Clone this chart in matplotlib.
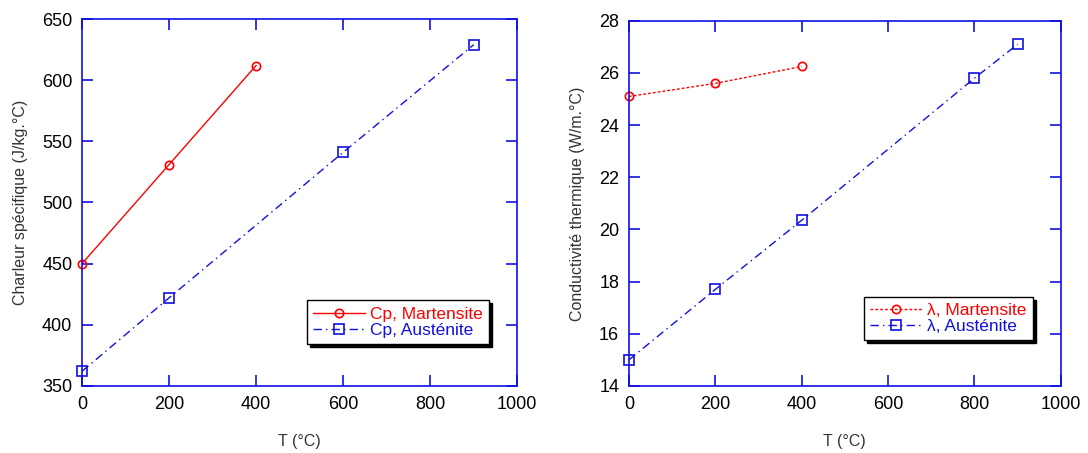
import matplotlib.pyplot as plt

plt.rcParams['font.family'] = ['Liberation Sans', 'DejaVu Sans']

# chaleur specifique
cp_mart_T = [0, 200, 400]
cp_mart = [450, 531, 612]
cp_aus_T = [0, 200, 600, 900]
cp_aus = [362, 422, 541, 629]

# conductivite thermique
lam_mart_T = [0, 200, 400]
lam_mart = [25.1, 25.6, 26.25]
lam_aus_T = [0, 200, 400, 800, 900]
lam_aus = [15.0, 17.7, 20.35, 25.8, 27.1]

blue = '#1010e0'

fig = plt.figure(figsize=(10.88, 4.53), dpi=100)
ax1 = fig.add_axes([0.0754, 0.148, 0.400, 0.810])
ax2 = fig.add_axes([0.578, 0.148, 0.397, 0.806])


def style(ax):
    for s in ax.spines.values():
        s.set_color(blue)
        s.set_linewidth(1.2)
    ax.tick_params(direction='in', length=8, width=1.2, color=blue,
                   top=True, right=True, labelsize=13, labelcolor='black', pad=7)
    ax.set_xlim(0, 1000)
    ax.set_xticks([0, 200, 400, 600, 800, 1000])
    ax.set_xlabel('T (°C)', fontsize=11.5, color='#333333', labelpad=15)


def legend(ax, bbox):
    leg = ax.legend(loc='lower right', bbox_to_anchor=bbox, fontsize=12.5, frameon=True,
                    shadow={'color': 'black', 'alpha': 1}, fancybox=False,
                    handlelength=3.0, handletextpad=0.3, borderpad=0.35, labelspacing=0.05,
                    borderaxespad=0)
    leg.get_frame().set_edgecolor('black')
    leg.get_frame().set_linewidth(1.0)
    for t, c in zip(leg.get_texts(), ['red', blue]):
        t.set_color(c)


ax1.plot(cp_mart_T, cp_mart, color='red', lw=1, marker='o', ms=6, mfc='none',
         mec='red', mew=1.2, label='Cp, Martensite', clip_on=False)
ax1.plot(cp_aus_T, cp_aus, color=blue, lw=1, ls=(0, (6, 3, 1, 3)), marker='s', ms=7,
         mfc='none', mec=blue, mew=1.2, label='Cp, Austénite', clip_on=False)
ax1.set_ylim(350, 650)
ax1.set_yticks(range(350, 651, 50))
ax1.set_ylabel('Charleur spécifique (J/kg.°C)', fontsize=11.5, color='#333333', labelpad=10)
style(ax1)
legend(ax1, (0.935, 0.115))

ax2.plot(lam_mart_T, lam_mart, color='red', lw=1, ls=(0, (2, 1.5)), marker='o', ms=6,
         mfc='none', mec='red', mew=1.2, label='λ, Martensite', clip_on=False)
ax2.plot(lam_aus_T, lam_aus, color=blue, lw=1, ls=(0, (6, 3, 1, 3)), marker='s', ms=7,
         mfc='none', mec=blue, mew=1.2, label='λ, Austénite', clip_on=False)
ax2.set_ylim(14, 28)
ax2.set_yticks(range(14, 29, 2))
ax2.set_ylabel('Conductivité thermique (W/m.°C)', fontsize=11.5, color='#333333', labelpad=10)
style(ax2)
legend(ax2, (0.935, 0.125))

fig.savefig('out.png', dpi=100)
